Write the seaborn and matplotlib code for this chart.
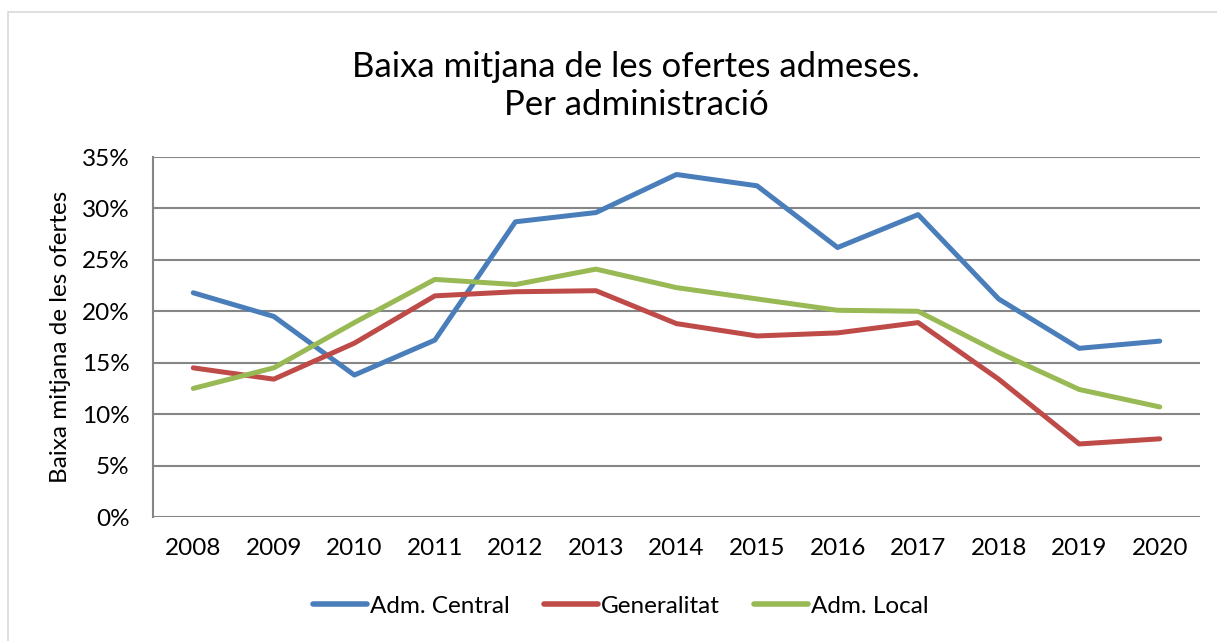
import matplotlib
matplotlib.use("Agg")
import matplotlib.pyplot as plt
import seaborn as sns
import pandas as pd
from matplotlib.ticker import FuncFormatter, MultipleLocator
from matplotlib.patches import Rectangle
from matplotlib.lines import Line2D

years = ["2008", "2009", "2010", "2011", "2012", "2013", "2014",
         "2015", "2016", "2017", "2018", "2019", "2020"]
adm_central = [21.8, 19.5, 13.8, 17.2, 28.7, 29.6, 33.3, 32.2, 26.2, 29.4, 21.2, 16.4, 17.1]
generalitat = [14.5, 13.4, 16.9, 21.5, 21.9, 22.0, 18.8, 17.6, 17.9, 18.9, 13.4, 7.1, 7.6]
adm_local = [12.5, 14.5, 18.9, 23.1, 22.6, 24.1, 22.3, 21.2, 20.1, 20.0, 16.0, 12.4, 10.7]
series_names = ["Adm. Central", "Generalitat", "Adm. Local"]
colors = ["#4A7EBB", "#BE4B48", "#98B954"]

rows = []
for name, vals in zip(series_names, [adm_central, generalitat, adm_local]):
    for i, (y, v) in enumerate(zip(years, vals)):
        rows.append({"idx": i, "year": y, "value": v, "series": name})
df = pd.DataFrame(rows)

sns.set_theme(style="white")
plt.rcParams["font.family"] = ["Lato", "DejaVu Sans"]
plt.rcParams["text.color"] = "black"

FS = 17.5
LW = 3.6

fig = plt.figure(figsize=(12.17, 6.41), dpi=100)
W, H = 1217, 641
ax = fig.add_axes([153 / W, 1 - 517 / H, (1200 - 153) / W, (517 - 157) / H])

# chart border
fig.patches.append(Rectangle((8 / W, -0.1), 1.2, 1 - 12 / H + 0.1,
                             transform=fig.transFigure, fill=False,
                             edgecolor="#D9D9D9", linewidth=1.2))

sns.lineplot(data=df, x="idx", y="value", hue="series", hue_order=series_names,
             palette=colors, linewidth=LW, ax=ax, legend=False,
             solid_capstyle="round", solid_joinstyle="round")

ax.set_xlim(-0.5, len(years) - 0.5)
ax.set_ylim(0, 35)
ax.yaxis.set_major_locator(MultipleLocator(5))
ax.yaxis.set_major_formatter(FuncFormatter(lambda v, p: f"{int(round(v))}%"))
ax.set_xticks(range(len(years)))
ax.set_xticklabels(years)
ax.tick_params(axis="both", length=0, labelsize=FS, colors="black")
ax.tick_params(axis="x", pad=15)
ax.tick_params(axis="y", pad=17)
ax.grid(axis="y", color="#868686", linewidth=1.5)
ax.grid(axis="x", visible=False)
ax.set_axisbelow(True)
for s in ["top", "right", "bottom"]:
    ax.spines[s].set_visible(False)
ax.spines["left"].set_color("#868686")
ax.spines["left"].set_linewidth(1.5)
ax.set_xlabel("")
ax.set_ylabel("Baixa mitjana de les ofertes", fontsize=FS, color="black", labelpad=8)

fig.text(636 / W, 1 - 86 / H, "Baixa mitjana de les ofertes admeses.\nPer administració",
         ha="center", va="center", fontsize=25, linespacing=1.25, color="black")

handles = [Line2D([0], [0], color=c, linewidth=LW + 0.4, solid_capstyle="round") for c in colors]
fig.legend(handles, series_names, loc="center", bbox_to_anchor=(621 / W, 1 - 606 / H),
           ncol=3, frameon=False, fontsize=FS, handlelength=2.2, handletextpad=0.15,
           columnspacing=1.4)

fig.savefig("out.png", dpi=100)
